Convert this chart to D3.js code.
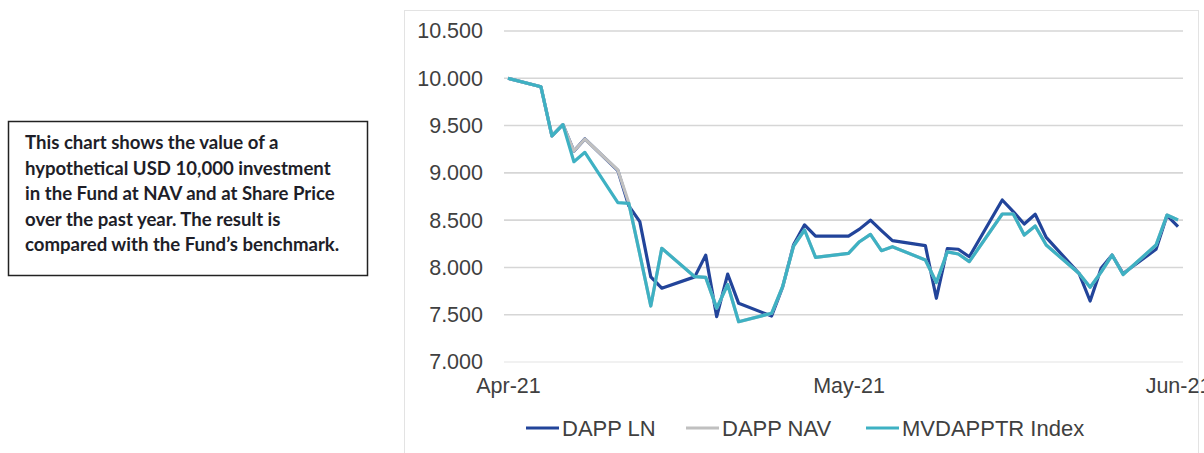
<!DOCTYPE html>
<html>
<head>
<meta charset="utf-8">
<script src="https://cdn.jsdelivr.net/npm/d3@7"></script>
<style>
  body { margin: 0; background: #fff; }
  svg { display: block; }
</style>
</head>
<body>
<svg id="chart" width="1204" height="453"></svg>
<script>
// trading days shown on the chart
var dates = [
  "2021-04-02",
  "2021-04-05", "2021-04-06", "2021-04-07", "2021-04-08", "2021-04-09",
  "2021-04-12", "2021-04-13", "2021-04-14", "2021-04-15", "2021-04-16",
  "2021-04-19", "2021-04-20", "2021-04-21", "2021-04-22", "2021-04-23",
  "2021-04-26", "2021-04-27", "2021-04-28", "2021-04-29", "2021-04-30",
  "2021-05-03", "2021-05-04", "2021-05-05", "2021-05-06", "2021-05-07",
  "2021-05-10", "2021-05-11", "2021-05-12", "2021-05-13", "2021-05-14",
  "2021-05-17", "2021-05-18", "2021-05-19", "2021-05-20", "2021-05-21",
  "2021-05-24", "2021-05-25", "2021-05-26", "2021-05-27", "2021-05-28",
  "2021-05-31", "2021-06-01", "2021-06-02"
];

var dappLN = [
  10000,
  9910, 9390, 9510, 9230, 9360,
  9025, 8650, 8484, 7900, 7780,
  7900, 8130, 7480, 7930, 7620,
  7486, 7790, 8240, 8450, 8332,
  8332, 8405, 8500, 8390, 8283,
  8230, 7674, 8200, 8192, 8113,
  8713, 8590, 8459, 8562, 8318,
  7935, 7645, 7990, 8131, 7935,
  8192, 8550, 8431
];

var dappNAV = [
  10000,
  9910, 9390, 9510, 9231, 9358,
  9030, 8680, 8140, 7592, 8202,
  7902, 7895, 7570, 7820, 7426,
  7515, 7797, 8225, 8396, 8107,
  8149, 8272, 8350, 8177, 8219,
  8079, 7840, 8165, 8142, 8061,
  8565, 8565, 8343, 8438, 8237,
  7935, 7790, 7950, 8131, 7925,
  8237, 8554, 8502
];

var mvdapptr = [
  10000,
  9910, 9390, 9510, 9118, 9217,
  8685, 8678, 8140, 7592, 8202,
  7902, 7895, 7570, 7820, 7426,
  7515, 7797, 8225, 8396, 8107,
  8149, 8272, 8350, 8177, 8219,
  8079, 7840, 8165, 8142, 8061,
  8565, 8565, 8343, 8438, 8237,
  7935, 7790, 7950, 8131, 7925,
  8237, 8554, 8502
];

var yTicks = [7000, 7500, 8000, 8500, 9000, 9500, 10000, 10500];
var yTickLabels = ["7.000", "7.500", "8.000", "8.500", "9.000", "9.500", "10.000", "10.500"];
var xTicks = ["2021-04-02", "2021-05-03", "2021-06-02"];
var xTickLabels = ["Apr-21", "May-21", "Jun-21"];

var seriesNames = ["DAPP LN", "DAPP NAV", "MVDAPPTR Index"];
var seriesColors = ["#22449a", "#c0c0c0", "#3eb1c3"];

var noteLines = [
  "This chart shows the value of a",
  "hypothetical USD 10,000 investment",
  "in the Fund at NAV and at Share Price",
  "over the past year. The result is",
  "compared with the Fund\u2019s benchmark."
];

var parse = d3.utcParse("%Y-%m-%d");
var svg = d3.select("#chart");
var axisFont = "'Liberation Sans', Arial, sans-serif";

// note box on the left
svg.append("rect")
  .attr("x", 8.5).attr("y", 121.5)
  .attr("width", 359).attr("height", 154)
  .attr("fill", "#fff")
  .attr("stroke", "#222").attr("stroke-width", 1.5);

svg.append("g").selectAll("text")
  .data(noteLines)
  .join("text")
  .attr("x", 25)
  .attr("y", function (d, i) { return 149 + i * 25.5; })
  .attr("font-family", "Lato, 'Open Sans', sans-serif")
  .attr("font-weight", 700)
  .attr("font-size", 18.6)
  .attr("fill", "#1e1e28")
  .text(function (d) { return d; });

// chart frame
svg.append("rect")
  .attr("x", 404.5).attr("y", 10.5)
  .attr("width", 794).attr("height", 470)
  .attr("fill", "none")
  .attr("stroke", "#e3e3e3").attr("stroke-width", 1);

var x = d3.scaleUtc()
  .domain([parse(dates[0]), parse(dates[dates.length - 1])])
  .range([508, 1178]);
var y = d3.scaleLinear().domain([7000, 10500]).range([362, 31]);

// gridlines
svg.append("g").selectAll("line")
  .data(yTicks)
  .join("line")
  .attr("x1", 504).attr("x2", 1183)
  .attr("y1", function (d) { return y(d); })
  .attr("y2", function (d) { return y(d); })
  .attr("stroke", function (d) { return d === 7000 ? "#ededed" : "#d6d6d6"; })
  .attr("stroke-width", 1.6);

// y axis labels
var yAxis = d3.axisLeft(y)
  .tickValues(yTicks)
  .tickSize(0)
  .tickPadding(0)
  .tickFormat(function (d, i) { return yTickLabels[i]; });
var gy = svg.append("g").attr("transform", "translate(483,0)").call(yAxis);
gy.select(".domain").remove();
gy.selectAll("text")
  .attr("font-family", axisFont)
  .attr("font-size", 21.5)
  .attr("fill", "#404040");

// x axis labels
var xAxis = d3.axisBottom(x)
  .tickValues(xTicks.map(parse))
  .tickSize(0)
  .tickPadding(0)
  .tickFormat(function (d, i) { return xTickLabels[i]; });
var gx = svg.append("g").attr("transform", "translate(0,378)").call(xAxis);
gx.select(".domain").remove();
gx.selectAll("text")
  .attr("font-family", axisFont)
  .attr("font-size", 21.5)
  .attr("fill", "#404040");

// lines
var allSeries = [dappLN, dappNAV, mvdapptr];
var line = d3.line()
  .x(function (d, i) { return x(parse(dates[i])); })
  .y(function (d) { return y(d); });

svg.append("g").selectAll("path")
  .data(allSeries)
  .join("path")
  .attr("d", function (d) { return line(d); })
  .attr("fill", "none")
  .attr("stroke", function (d, i) { return seriesColors[i]; })
  .attr("stroke-width", 3.2)
  .attr("stroke-linejoin", "round");

// legend
var legendX = [526, 686, 866];
var leg = svg.append("g").selectAll("g")
  .data(seriesNames)
  .join("g")
  .attr("transform", function (d, i) { return "translate(" + legendX[i] + ",428)"; });
leg.append("line")
  .attr("x1", 0).attr("x2", 33)
  .attr("stroke", function (d, i) { return seriesColors[i]; })
  .attr("stroke-width", 3);
leg.append("text")
  .attr("x", 36)
  .attr("dy", "0.36em")
  .attr("font-family", axisFont)
  .attr("font-size", 22)
  .attr("fill", "#404040")
  .text(function (d) { return d; });
</script>
</body>
</html>
